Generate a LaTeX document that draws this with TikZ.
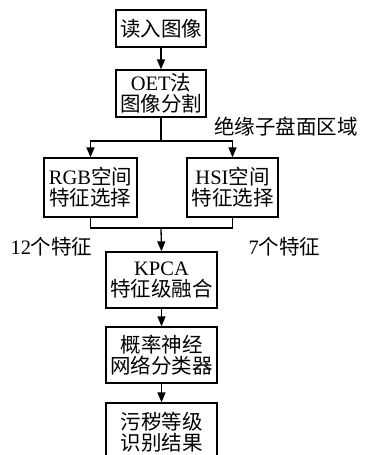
\documentclass[tikz,border=0pt]{standalone}
\usepackage{fontspec}
\setmainfont{Liberation Serif}
\newfontfamily\cjk{Noto Sans CJK SC}
\usetikzlibrary{arrows.meta}
\begin{document}
\begin{tikzpicture}[x=1pt,y=-1pt,
  box/.style={draw,line width=1.3pt,inner sep=0pt,align=center,
    font=\fontsize{20.5}{21}\selectfont},
  lbl/.style={inner sep=0pt,font=\fontsize{20.5}{21}\selectfont},
  conn/.style={line width=1.3pt},
  arr/.style={conn,-{Triangle[length=10pt,width=8pt]}}]
\clip (0,0) rectangle (365,455);
\node[box,minimum width=90pt,minimum height=37pt] (n1) at (161,28.5) {{\cjk 读入图像}};
\node[box,minimum width=90pt,minimum height=47pt] (n2) at (161,93.5) {OET{\cjk 法}\\{\cjk 图像分割}};
\node[box,minimum width=93pt,minimum height=59pt] (n3) at (90.5,187.5) {RGB{\cjk 空间}\\{\cjk 特征选择}};
\node[box,minimum width=91pt,minimum height=59pt] (n4) at (232.5,187.5) {HSI{\cjk 空间}\\{\cjk 特征选择}};
\node[box,minimum width=111pt,minimum height=56pt] (n5) at (161.5,280) {KPCA\\{\cjk 特征级融合}};
\node[box,minimum width=111pt,minimum height=56pt] (n6) at (161.5,355) {{\cjk 概率神经}\\{\cjk 网络分类器}};
\node[box,minimum width=111pt,minimum height=60pt,text depth=4pt] (n7) at (161.5,433) {{\cjk 污秽等级}\\{\cjk 识别结果}};
\node[lbl] (l1) at (286,127) {{\cjk 绝缘子盘面区域}};
\node[lbl] (l2) at (51.5,247) {12{\cjk 个特征}};
\node[lbl] (l3) at (284.5,247) {7{\cjk 个特征}};
\coordinate (j1) at (161,141);
\coordinate (j2) at (161,228);
\draw[arr] (n1) -- (n2);
\draw[conn] (n2.south) -- (j1);
\draw[arr] (j1) -| (n3.north);
\draw[arr] (j1) -| (n4.north);
\draw[conn] (n3.south) |- (j2);
\draw[conn] (n4.south) |- (j2);
\draw[arr] (j2) -- (n5.north);
\draw[arr] (n5) -- (n6);
\draw[arr] (n6) -- (n7);
\end{tikzpicture}
\end{document}
